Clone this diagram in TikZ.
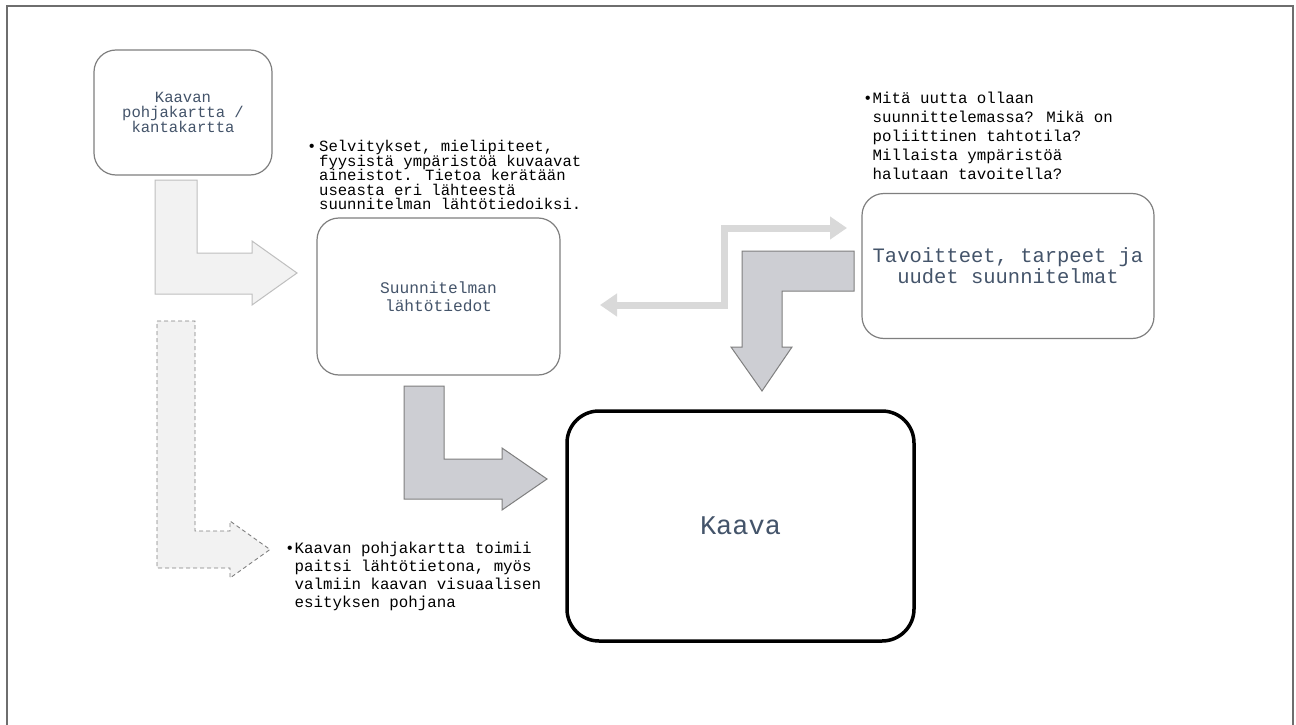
\documentclass[tikz,border=0pt]{standalone}
\usepackage{fontspec}
\newfontfamily\monofnt{Liberation Mono}
\usetikzlibrary{arrows.meta}
\definecolor{txtblue}{HTML}{44546A}
\definecolor{boxline}{HTML}{7F7F7F}
\definecolor{lightfill}{HTML}{F2F2F2}
\definecolor{lightline}{HTML}{BFBFBF}
\definecolor{grayfill}{HTML}{CDCED3}
\definecolor{grayline}{HTML}{7F7F7F}
\definecolor{thinarrow}{HTML}{D9D9D9}
\definecolor{framecol}{HTML}{6E6E6E}
\tikzset{
  box/.style={draw=boxline, line width=1.2pt, rounded corners=22pt, fill=white, align=center, text=txtblue, inner sep=0pt},
  bigbox/.style={draw=black, line width=3.5pt, rounded corners=32pt, fill=white, align=center, text=txtblue, inner sep=0pt},
  lightarrow/.style={fill=lightfill, draw=lightline, line width=1pt},
  dasharrow/.style={fill=lightfill, draw=gray, line width=0.9pt, dash pattern=on 4pt off 3pt},
  grayarrow/.style={fill=grayfill, draw=grayline, line width=1pt},
  note/.style={align=left, anchor=north west, inner sep=0pt, text=black},
}
\begin{document}
\begin{tikzpicture}[x=1pt, y=-1pt]
\useasboundingbox (0,0) rectangle (1296,725);
\fill[white] (0,0) rectangle (1296,725);
% outer frame
\draw[framecol, line width=1.6pt] (7,735) -- (7,6) -- (1293,6) -- (1293,735);

% boxes
\node[box, minimum width=178, minimum height=125, font=\monofnt\fontsize{15.6}{14.8}\selectfont] (base) at (183,112.5) {Kaavan\\pohjakartta /\\kantakartta};
\node[box, minimum width=243, minimum height=157, font=\monofnt\fontsize{16.2}{17.5}\selectfont] (lt) at (438.5,296.5) {Suunnitelman\\lähtötiedot};
\node[box, minimum width=292, minimum height=145, font=\monofnt\fontsize{20.5}{21}\selectfont] (tav) at (1008,266) {Tavoitteet, tarpeet ja\\uudet suunnitelmat};
\node[bigbox, minimum width=347, minimum height=230, font=\monofnt\fontsize{27}{28}\selectfont] (kaava) at (740.5,526) {Kaava};

% notes
\node[note, font=\monofnt\fontsize{15.6}{14.6}\selectfont] (n1) at (307,140) {•\,Selvitykset, mielipiteet,\\\phantom{•\,}fyysistä ympäristöä kuvaavat\\\phantom{•\,}aineistot. Tietoa kerätään\\\phantom{•\,}useasta eri lähteestä\\\phantom{•\,}suunnitelman lähtötiedoiksi.};
\node[note, font=\monofnt\fontsize{15.8}{19}\selectfont] (n2) at (863,92) {•Mitä uutta ollaan\\\phantom{•}suunnittelemassa? Mikä on\\\phantom{•}poliittinen tahtotila?\\\phantom{•}Millaista ympäristöä\\\phantom{•}halutaan tavoitella?};
\node[note, font=\monofnt\fontsize{15.8}{17.8}\selectfont] (n3) at (285,542) {•Kaavan pohjakartta toimii\\\phantom{•}paitsi lähtötietona, myös\\\phantom{•}valmiin kaavan visuaalisen\\\phantom{•}esityksen pohjana};

% block arrows
\draw[lightarrow] (155,180) -- (197,180) -- (197,253) -- (252,253) -- (252,241) -- (297,273) -- (252,305) -- (252,294) -- (155,294) -- cycle;
\draw[dasharrow] (157,321) -- (195,321) -- (195,531) -- (230,531) -- (230,521) -- (270,549.5) -- (230,578) -- (230,568) -- (157,568) -- cycle;
\draw[grayarrow] (404,386) -- (444,386) -- (444,459) -- (502,459) -- (502,448) -- (547,479) -- (502,510) -- (502,499) -- (404,499) -- cycle;
\draw[grayarrow] (854,251) -- (854,291) -- (782,291) -- (782,347) -- (792,347) -- (762,391) -- (731,347) -- (742,347) -- (742,251) -- cycle;

% thin double elbow arrow
\coordinate (la) at (600,305);
\coordinate (ra) at (847,228);
\draw[thinarrow, line width=7pt, {Triangle[width=22pt,length=17pt]}-{Triangle[width=22pt,length=17pt]}] (la) -- (724,305) -- (724,228) -- (ra);
\end{tikzpicture}
\end{document}
